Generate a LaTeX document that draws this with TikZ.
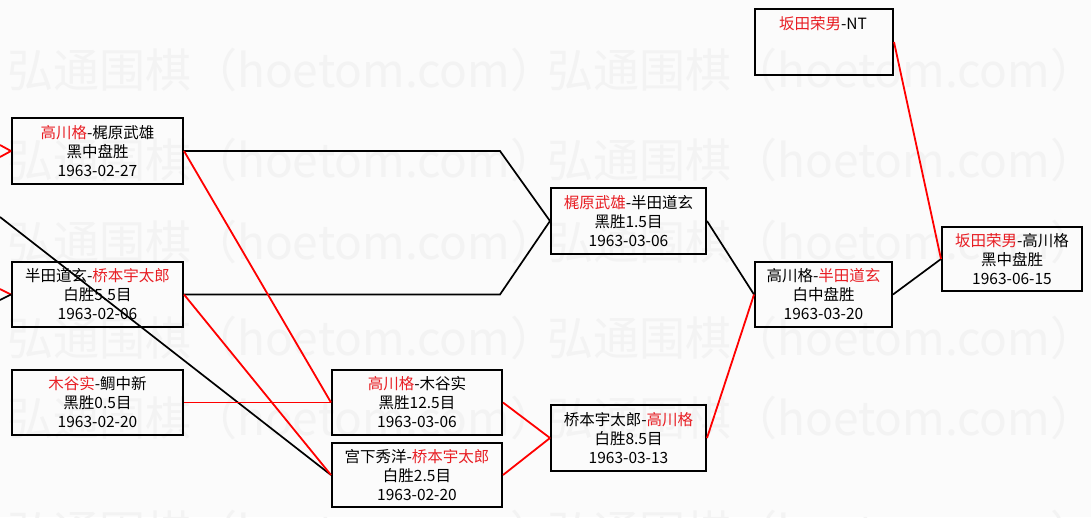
\documentclass[tikz,border=0pt]{standalone}
\usepackage{fontspec}
\newfontfamily\cjk{Noto Sans CJK SC}
\definecolor{bgc}{RGB}{251,251,251}
\definecolor{wmc}{RGB}{243,243,243}
\definecolor{wred}{RGB}{232,30,36}
\begin{document}
\begin{tikzpicture}[x=1pt,y=-1pt,
  box/.style={draw=black, line width=2pt, inner sep=0pt, align=center,
    font=\cjk\fontsize{15.5}{19}\selectfont},
  txt/.style={inner sep=0pt, font=\cjk\fontsize{15.5}{19}\selectfont},
  bw/.style={line width=1.7pt, black},
  rw/.style={line width=1.8pt, red},
  wm/.style={anchor=west, inner sep=0pt, text=wmc, font=\cjk\fontsize{46}{46}\selectfont}]
\useasboundingbox (0,0) rectangle (1091,517);
\fill[bgc] (0,0) rectangle (1091,517);
% watermark
\begin{scope}
\clip (0,0) rectangle (1091,517);
\foreach \y [count=\i] in {70,160,242,338,418,532} {
  \foreach \x [count=\j] in {7,547} {
    \node[wm] (wm\i-\j) at (\x,\y) {弘通围棋（hoetom.com）};
  }
}
\end{scope}
% boxes
\node[box, minimum width=171pt, minimum height=66pt] (A) at (97.5,151)
  {\textcolor{wred}{高川格}-梶原武雄\\黑中盘胜\\1963-02-27};
\node[box, minimum width=171pt, minimum height=65pt] (B) at (97.5,294.5)
  {半田道玄-\textcolor{wred}{桥本宇太郎}\\白胜5.5目\\1963-02-06};
\node[box, minimum width=171pt, minimum height=65pt] (C) at (97.5,402.5)
  {\textcolor{wred}{木谷实}-鲷中新\\黑胜0.5目\\1963-02-20};
\node[box, minimum width=170pt, minimum height=65pt] (D) at (417,402.5)
  {\textcolor{wred}{高川格}-木谷实\\黑胜12.5目\\1963-03-06};
\node[box, minimum width=170pt, minimum height=64pt] (E) at (417,475)
  {宫下秀洋-\textcolor{wred}{桥本宇太郎}\\白胜2.5目\\1963-02-20};
\node[box, minimum width=155pt, minimum height=66pt] (F) at (628.5,221)
  {\textcolor{wred}{梶原武雄}-半田道玄\\黑胜1.5目\\1963-03-06};
\node[box, minimum width=155pt, minimum height=66pt] (G) at (628.5,438)
  {桥本宇太郎-\textcolor{wred}{高川格}\\白胜8.5目\\1963-03-13};
\node[box, minimum width=137pt, minimum height=65pt] (H) at (823.5,294.5)
  {高川格-\textcolor{wred}{半田道玄}\\白中盘胜\\1963-03-20};
\node[box, minimum width=138pt, minimum height=66pt] (I) at (824,42) {};
\node[txt] (Itxt) at (823,24) {\textcolor{wred}{坂田荣男}-NT};
\node[box, minimum width=140pt, minimum height=64pt] (J) at (1012,259)
  {\textcolor{wred}{坂田荣男}-高川格\\黑中盘胜\\1963-06-15};
% free ends and bends
\coordinate (inA1) at (0,145);
\coordinate (inA2) at (0,157);
\coordinate (inB1) at (0,289);
\coordinate (inB2) at (0,300);
\coordinate (inE) at (0,217);
\coordinate (bA) at (500,151);
\coordinate (bB) at (500,294.5);
% connectors
\draw[rw] (inA1) -- (A.west);
\draw[rw] (inA2) -- (A.west);
\draw[rw] (inB1) -- (B.west);
\draw[bw] (inB2) -- (B.west);
\draw[bw] (inE) -- (E.west);
\draw[bw] (A.east) -- (bA) -- (F.west);
\draw[bw] (B.east) -- (bB) -- (F.west);
\draw[rw] (A.east) -- (D.west);
\draw[rw] (C.east) -- (D.west);
\draw[rw] (B.east) -- (E.west);
\draw[rw] (D.east) -- (G.west);
\draw[rw] (E.east) -- (G.west);
\draw[bw] (F.east) -- (H.west);
\draw[rw] (G.east) -- (H.west);
\draw[bw] (H.east) -- (J.west);
\draw[rw] (I.east) -- (J.west);
\end{tikzpicture}
\end{document}
